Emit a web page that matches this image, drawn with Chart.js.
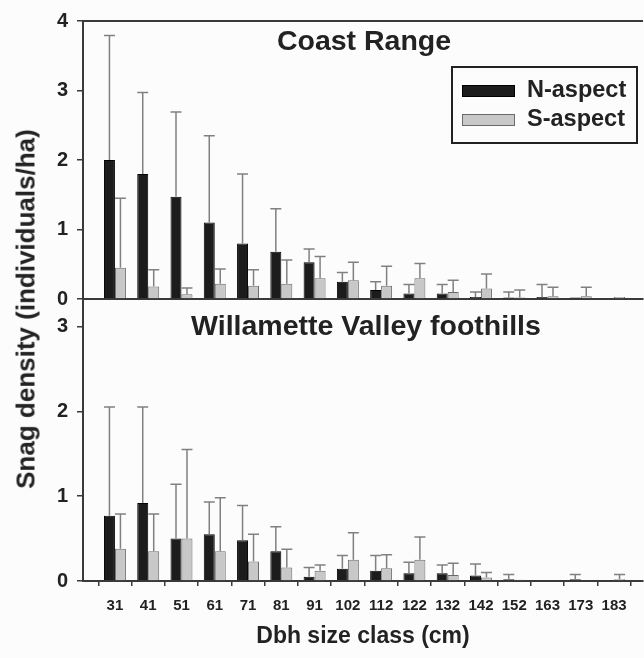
<!DOCTYPE html>
<html>
<head>
<meta charset="utf-8">
<title>Snag density by Dbh size class</title>
<script src="https://cdn.jsdelivr.net/npm/chart.js@4.4.1/dist/chart.umd.min.js"></script>
<style>
    html, body { margin: 0; padding: 0; background: #fcfcfc; }
    body {
        width: 644px; height: 658px; position: relative; overflow: hidden;
        font-family: "Liberation Sans", Arial, sans-serif; color: #222;
    }
    .box { position: absolute; left: 0; width: 644px; }
    #topBox { top: 0; height: 320px; }
    #bottomBox { top: 280px; height: 378px; }
    .lbl { position: absolute; font-weight: bold; white-space: nowrap; z-index: 2; }
    #yTitle { left: 26px; top: 309px; font-size: 26px; transform: translate(-50%, -50%) rotate(-90deg); }
    .panelTitle { font-size: 28.5px; transform: translate(-50%, -50%); }
</style>
</head>
<body>
<div class="box" id="topBox"><canvas id="coastChart"></canvas></div>
<div class="box" id="bottomBox"><canvas id="valleyChart"></canvas></div>
<div class="lbl" id="yTitle">Snag density (individuals/ha)</div>
<div class="lbl panelTitle" style="left:364px; top:40px;">Coast Range</div>
<div class="lbl panelTitle" style="left:366px; top:325px;">Willamette Valley foothills</div>

<script>
// Dbh size classes (cm)
const sizeClasses = ['31', '41', '51', '61', '71', '81', '91', '102', '112', '122', '132', '142', '152', '163', '173', '183'];

// Coast Range: means and upper error (SE)
const coastN    = [2.00, 1.80, 1.47, 1.10, 0.80, 0.68, 0.53, 0.25, 0.13, 0.08, 0.08, 0.03, 0.02, 0.03, 0.02, 0];
const coastNErr = [1.79, 1.17, 1.22, 1.25, 1.00, 0.62, 0.19, 0.13, 0.12, 0.13, 0.13, 0.07, 0.08, 0.18, 0, 0];
const coastS    = [0.45, 0.18, 0.07, 0.22, 0.19, 0.22, 0.30, 0.27, 0.19, 0.30, 0.10, 0.15, 0.02, 0.04, 0.04, 0.03];
const coastSErr = [1.00, 0.24, 0.09, 0.21, 0.23, 0.34, 0.31, 0.26, 0.28, 0.21, 0.17, 0.21, 0.11, 0.13, 0.13, 0];

// Willamette Valley foothills
const valleyN    = [0.77, 0.92, 0.50, 0.55, 0.48, 0.35, 0.05, 0.145, 0.12, 0.09, 0.09, 0.065, 0.02, 0, 0.02, 0];
const valleyNErr = [1.28, 1.13, 0.64, 0.38, 0.41, 0.29, 0.11, 0.155, 0.18, 0.13, 0.10, 0.135, 0.058, 0, 0.058, 0];
const valleyS    = [0.38, 0.35, 0.50, 0.35, 0.23, 0.16, 0.12, 0.25, 0.15, 0.25, 0.07, 0.04, 0.015, 0, 0, 0.02];
const valleySErr = [0.41, 0.44, 1.05, 0.63, 0.32, 0.215, 0.07, 0.32, 0.16, 0.27, 0.14, 0.06, 0, 0, 0, 0.058];

const seriesNames = ['N-aspect', 'S-aspect'];
const yTicksTop = [0, 1, 2, 3, 4];
const yTicksBottom = [0, 1, 2, 3];

const AXIS = '#3a3a3a';
const FONT = '"Liberation Sans", Arial, sans-serif';

// upper error bars drawn from the bar top
const errorBars = {
    id: 'errorBars',
    afterDatasetsDraw(chart) {
        const ctx = chart.ctx;
        const yScale = chart.scales.y;
        ctx.save();
        ctx.strokeStyle = '#808080';
        ctx.lineWidth = 1.5;
        chart.data.datasets.forEach((ds, di) => {
            const meta = chart.getDatasetMeta(di);
            meta.data.forEach((bar, i) => {
                const err = ds.errors[i];
                if (!err) return;
                const top = yScale.getPixelForValue(ds.data[i].y + err);
                ctx.beginPath();
                ctx.moveTo(bar.x, bar.y);
                ctx.lineTo(bar.x, top);
                ctx.moveTo(bar.x - 5.5, top);
                ctx.lineTo(bar.x + 5.5, top);
                ctx.stroke();
            });
        });
        ctx.restore();
    }
};

// top border line of the upper panel
const topFrame = {
    id: 'topFrame',
    afterDraw(chart, args, opts) {
        if (!opts.show) return;
        const { ctx, chartArea } = chart;
        ctx.save();
        ctx.strokeStyle = AXIS;
        ctx.lineWidth = 2;
        ctx.beginPath();
        ctx.moveTo(chartArea.left - 1, chartArea.top);
        ctx.lineTo(chartArea.right, chartArea.top);
        ctx.stroke();
        ctx.restore();
    }
};

// boxed legend inside the upper panel
const boxLegend = {
    id: 'boxLegend',
    afterDraw(chart, args, opts) {
        if (!opts.show) return;
        const ctx = chart.ctx;
        ctx.save();
        ctx.strokeStyle = '#222';
        ctx.lineWidth = 2;
        ctx.strokeRect(452, 67, 185, 76);
        chart.data.datasets.forEach((ds, i) => {
            const y = 85 + i * 29;
            ctx.fillStyle = ds.backgroundColor;
            ctx.fillRect(462, y, 53, 12);
            ctx.strokeStyle = ds.borderColor;
            ctx.lineWidth = 1;
            ctx.strokeRect(462.5, y + 0.5, 52, 11);
            ctx.fillStyle = '#222';
            ctx.font = 'bold 23.5px ' + FONT;
            ctx.textBaseline = 'middle';
            ctx.fillText(ds.label, 527, y + 6);
        });
        ctx.restore();
    }
};

function buildDatasets(nVals, nErr, sVals, sErr) {
    const pts = vals => vals.map((v, i) => ({ x: i, y: v }));
    return [
        {
            label: seriesNames[0],
            data: pts(nVals),
            errors: nErr,
            backgroundColor: '#1c1c1c',
            borderColor: '#000000',
            borderWidth: 1
        },
        {
            label: seriesNames[1],
            data: pts(sVals),
            errors: sErr,
            backgroundColor: '#c8c8c8',
            borderColor: '#6a6a6a',
            borderWidth: 1
        }
    ];
}

function makeChart(canvasId, datasets, opt) {
    const ctx = document.getElementById(canvasId).getContext('2d');
    return new Chart(ctx, {
        type: 'bar',
        data: { datasets: datasets },
        options: {
            responsive: true,
            maintainAspectRatio: false,
            animation: false,
            layout: { padding: opt.padding },
            datasets: { bar: { categoryPercentage: 0.66, barPercentage: 1.0 } },
            plugins: {
                legend: { display: false },
                tooltip: { enabled: false },
                topFrame: { show: opt.frame },
                boxLegend: { show: opt.legend }
            },
            scales: {
                x: {
                    type: 'linear',
                    min: -0.96,
                    max: 15.87,
                    offset: false,
                    afterBuildTicks: s => { s.ticks = sizeClasses.map((c, i) => ({ value: i })); },
                    afterFit: s => { s.height = opt.xHeight; },
                    ticks: {
                        display: opt.xLabels,
                        autoSkip: false,
                        maxRotation: 0,
                        padding: 11,
                        color: '#222',
                        font: { family: FONT, size: 15, weight: 'bold' },
                        callback: v => sizeClasses[v]
                    },
                    grid: { display: opt.xLabels, drawOnChartArea: false, tickLength: 5, color: AXIS, lineWidth: 1.5 },
                    border: { color: AXIS, width: 2 },
                    title: {
                        display: opt.xLabels,
                        text: 'Dbh size class (cm)',
                        color: '#222',
                        font: { family: FONT, size: 23, weight: 'bold' },
                        padding: { top: 0, bottom: 8 }
                    }
                },
                y: {
                    min: 0,
                    max: opt.yMax,
                    afterBuildTicks: s => { s.ticks = opt.yTicks.map(v => ({ value: v })); },
                    afterFit: s => { s.width = 83; },
                    ticks: {
                        padding: 9,
                        color: '#222',
                        font: { family: FONT, size: 20, weight: 'bold' }
                    },
                    grid: { drawOnChartArea: false, tickLength: 6, color: AXIS, lineWidth: 1.5 },
                    border: { color: AXIS, width: 2 }
                }
            }
        },
        plugins: [errorBars, topFrame, boxLegend]
    });
}

makeChart('coastChart', buildDatasets(coastN, coastNErr, coastS, coastSErr), {
    padding: { top: 19, right: 1, bottom: 20, left: 0 },
    yMax: 4, yTicks: yTicksTop, xHeight: 0, xLabels: false, frame: true, legend: true
});

makeChart('valleyChart', buildDatasets(valleyN, valleyNErr, valleyS, valleySErr), {
    padding: { top: 20, right: 1, bottom: 0, left: 0 },
    yMax: 3.3, yTicks: yTicksBottom, xHeight: 77, xLabels: true, frame: false, legend: false
});
</script>
</body>
</html>
